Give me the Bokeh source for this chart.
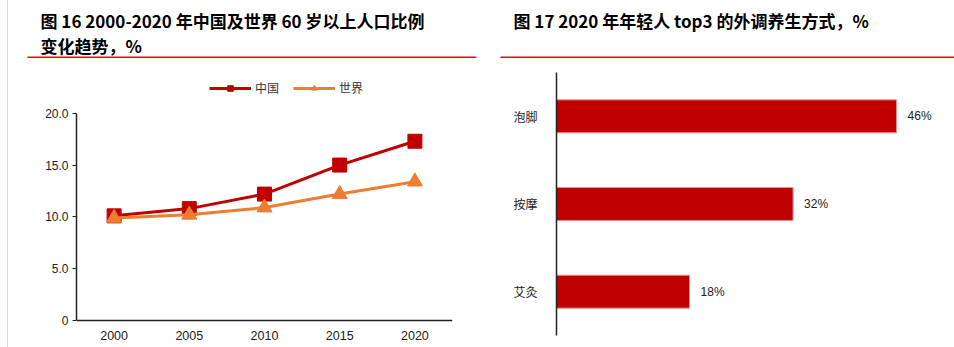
from bokeh.plotting import figure
from bokeh.layouts import row, column
from bokeh.models import (FactorRange, Range1d, Label, BoxAnnotation, Legend, LegendItem,
                          ColumnDataSource, FixedTicker, NumeralTickFormatter, Div)
from bokeh.core.properties import value
from bokeh.embed import file_html
from bokeh.resources import INLINE

# ---------------- data ----------------
years = ["2000", "2005", "2010", "2015", "2020"]
china = [10.1, 10.8, 12.2, 15.0, 17.3]
world = [9.9, 10.2, 10.9, 12.2, 13.4]
y_ticks = [0, 5, 10, 15, 20]
y_tick_labels = ["0", "5.0", "10.0", "15.0", "20.0"]
series_names = ["中国", "世界"]

methods = ["泡脚", "按摩", "艾灸"]          # top to bottom
shares = [46, 32, 18]
share_labels = ["46%", "32%", "18%"]

title_left_1 = "图 16 2000-2020 年中国及世界 60 岁以上人口比例"
title_left_2 = "变化趋势，%"
title_right = "图 17 2020 年年轻人 top3 的外调养生方式，%"

CJK = "Noto Sans CJK SC"
LAT = "Liberation Sans"
RED = "#C00000"
ORANGE = "#ED7D31"
TITLE_RED = "#FF0000"


def clean(fig):
    fig.outline_line_color = None
    fig.grid.visible = False
    fig.background_fill_color = "white"
    fig.border_fill_color = "white"


# ---------------- header (titles + red rules) ----------------
H = figure(width=946, height=62, output_backend="svg", toolbar_location=None,
           x_range=Range1d(0, 1), y_range=Range1d(0, 1),
           min_border=0, min_border_left=0, min_border_right=0,
           min_border_top=0, min_border_bottom=0)
clean(H)
H.axis.visible = False
for txt, xx, yy in [(title_left_1, 32, 42), (title_left_2, 32, 17), (title_right, 505, 42)]:
    H.add_layout(Label(x=xx, y=yy, x_units="screen", y_units="screen", text=txt,
                       text_font=CJK, text_font_style="bold", text_font_size="17px",
                       text_baseline="middle", text_color="#000000"))
for l0, r0 in [(19, 468), (492, 946)]:
    H.add_layout(BoxAnnotation(left=l0, right=r0, bottom=4.6, top=6.0,
                               left_units="screen", right_units="screen",
                               bottom_units="screen", top_units="screen",
                               fill_color=TITLE_RED, fill_alpha=1, line_color=None))

# ---------------- left chart ----------------
L = figure(width=472, height=285, output_backend="svg", toolbar_location=None,
           x_range=FactorRange(*years), y_range=Range1d(-2.6, 23.93),
           min_border_left=68, min_border_right=28, min_border_top=10, min_border_bottom=0)
clean(L)

src_l = ColumnDataSource(dict(year=years, china=china, world=world))
cl = L.line("year", "china", source=src_l, line_color=RED, line_width=3)
cm = L.scatter("year", "china", source=src_l, marker="square", size=14, fill_color=RED, line_color=RED)
wl = L.line("year", "world", source=src_l, line_color=ORANGE, line_width=3)
wm = L.scatter("year", "world", source=src_l, marker="triangle", size=15, fill_color=ORANGE, line_color=ORANGE)

ya = L.yaxis[0]
ya.ticker = FixedTicker(ticks=y_ticks)
ya.formatter = NumeralTickFormatter(format="0.0")
ya.major_label_overrides = {t: s for t, s in zip(y_ticks, y_tick_labels)}
ya.bounds = (0, 20)
ya.major_tick_out = 4
ya.major_tick_in = 0
ya.minor_tick_line_color = None
ya.major_label_standoff = 4
ya.axis_line_color = "#222222"
ya.axis_line_width = 1.5
ya.major_tick_line_color = "#222222"
ya.major_label_text_font = LAT
ya.major_label_text_font_size = "12px"
ya.major_label_text_color = "#222222"

xa = L.xaxis[0]
xa.fixed_location = 0
xa.major_tick_line_color = None
xa.minor_tick_line_color = None
xa.major_label_standoff = 4
xa.axis_line_color = "#222222"
xa.axis_line_width = 1.5
xa.major_label_text_font = LAT
xa.major_label_text_font_size = "12.5px"
xa.major_label_text_color = "#222222"

leg = Legend(items=[LegendItem(label=series_names[0], renderers=[cl, cm]),
                    LegendItem(label=series_names[1], renderers=[wl, wm])],
             orientation="horizontal", location=(133, 251))
leg.background_fill_alpha = 0
leg.border_line_color = None
leg.padding = 0
leg.margin = 0
leg.spacing = 14
leg.glyph_width = 42
leg.glyph_height = 14
leg.label_height = 14
leg.label_standoff = 4
leg.label_text_font = CJK
leg.label_text_font_size = "12px"
leg.label_text_color = "#333333"
L.add_layout(leg, "center")

# ---------------- right chart ----------------
n = len(methods)
ypos = [n - i - 0.5 for i in range(n)]     # category slots, top to bottom
R = figure(width=474, height=285, output_backend="svg", toolbar_location=None,
           y_range=Range1d(-0.137, n), x_range=Range1d(0, 53.3),
           min_border_left=76, min_border_right=4, min_border_top=10, min_border_bottom=0)
clean(R)

src_r = ColumnDataSource(dict(y=ypos, v=shares, lab=share_labels))
R.hbar(y="y", right="v", left=0, height=0.376, source=src_r,
       fill_color=RED, line_color="#E99090", line_width=1)
R.text(x="v", y="y", text="lab", source=src_r, x_offset=11,
       text_font=value(LAT), text_font_size="12px", text_baseline="middle",
       text_align="left", text_color="#222222")

R.xaxis.visible = False
ra = R.yaxis[0]
ra.ticker = FixedTicker(ticks=ypos)
ra.major_label_overrides = {yv: m for yv, m in zip(ypos, methods)}
ra.bounds = (0, n)
ra.major_tick_line_color = None
ra.minor_tick_line_color = None
ra.major_label_standoff = 13
ra.axis_line_color = "#222222"
ra.axis_line_width = 1.5
ra.major_label_text_font = CJK
ra.major_label_text_font_size = "12px"
ra.major_label_text_color = "#222222"

strip = Div(text="", width=8, height=347, margin=0,
            styles={"border-right": "1px solid #D9D9D9", "box-sizing": "border-box"})

p = row(strip, column(H, row(L, R)))
open("out.html", "w").write(file_html(p, INLINE))
